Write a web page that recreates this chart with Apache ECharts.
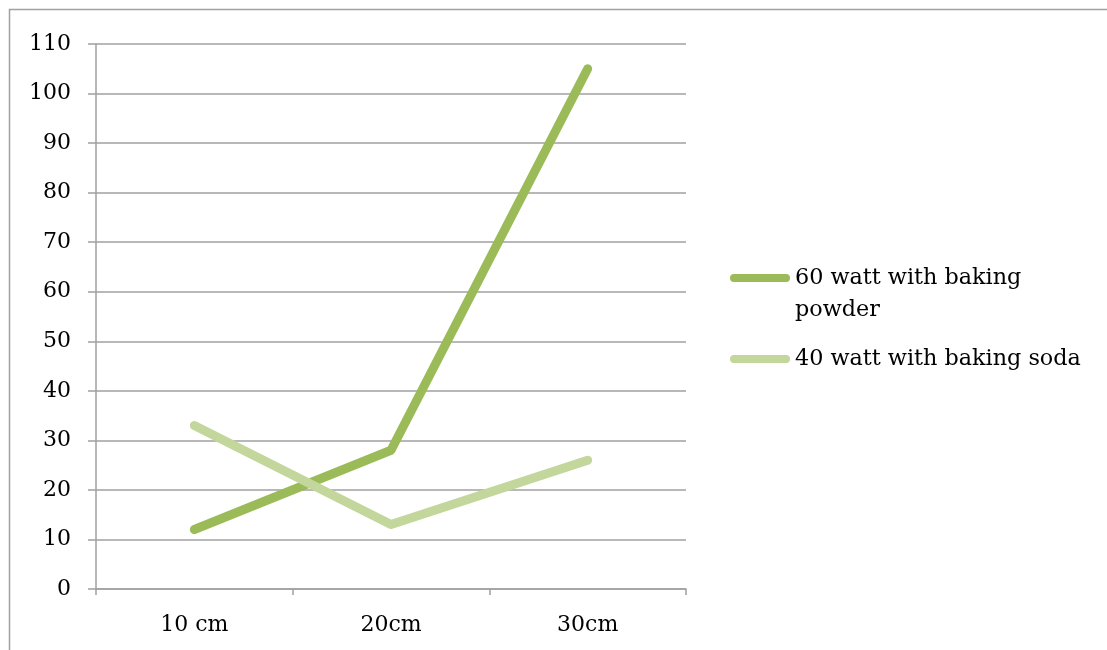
<!DOCTYPE html>
<html>
<head>
<meta charset="utf-8">
<script src="https://cdn.jsdelivr.net/npm/echarts@6/dist/echarts.min.js"></script>
<style>html,body{margin:0;padding:0;background:#fff}#c{width:1107px;height:650px}</style>
</head>
<body>
<div id="c"></div>
<script>
const categories = ['10 cm', '20cm', '30cm'];
const seriesNames = ['60 watt with baking powder', '40 watt with baking soda'];
const powder60 = [12, 28, 105];
const soda40 = [33, 13, 26];
const yTicks = { min: 0, max: 110, interval: 10 };

const FONT = 'DejaVu Serif';
const GRAY = '#a0a0a0';
const chart = echarts.init(document.getElementById('c'));
chart.setOption({
  animation: false,
  backgroundColor: '#fff',
  graphic: [{
    type: 'rect', silent: true,
    shape: { x: 9.5, y: 9.5, width: 1200, height: 1000 },
    style: { fill: 'none', stroke: GRAY, lineWidth: 1.5 }
  }],
  grid: { left: 96, right: 421, top: 44, bottom: 61, containLabel: false },
  legend: {
    orient: 'vertical',
    left: 730, top: 230, padding: 0,
    itemWidth: 60, itemHeight: 8, itemGap: 17,
    icon: 'path://M4,0L56,0A4,4,0,0,1,56,8L4,8A4,4,0,0,1,4,0Z',
    data: seriesNames,
    formatter: n => n === seriesNames[0] ? '\n60 watt with baking\npowder' : n,
    textStyle: { fontFamily: FONT, fontSize: 22.3, color: '#000', lineHeight: 32 }
  },
  xAxis: {
    type: 'category', data: categories, boundaryGap: true,
    axisLine: { lineStyle: { color: GRAY, width: 1.5 } },
    axisTick: { show: true, length: 6, alignWithLabel: false, lineStyle: { color: GRAY, width: 1.5 } },
    axisLabel: { fontFamily: FONT, fontSize: 22, color: '#000', margin: 25 },
    splitLine: { show: false }
  },
  yAxis: {
    type: 'value', min: yTicks.min, max: yTicks.max, interval: yTicks.interval,
    axisLine: { show: true, lineStyle: { color: GRAY, width: 1.5 } },
    axisTick: { show: true, length: 8, lineStyle: { color: GRAY, width: 1.5 } },
    axisLabel: { fontFamily: FONT, fontSize: 22, color: '#000', margin: 25 },
    splitLine: { show: true, lineStyle: { color: GRAY, width: 1.5 } }
  },
  series: [
    { name: seriesNames[0], type: 'line', data: powder60, symbol: 'none', color: '#9BBB59',
      lineStyle: { width: 9, cap: 'round', join: 'round', color: '#9BBB59' } },
    { name: seriesNames[1], type: 'line', data: soda40, symbol: 'none', color: '#C3D69B',
      lineStyle: { width: 9, cap: 'round', join: 'round', color: '#C3D69B' } }
  ]
});
</script>
</body>
</html>
